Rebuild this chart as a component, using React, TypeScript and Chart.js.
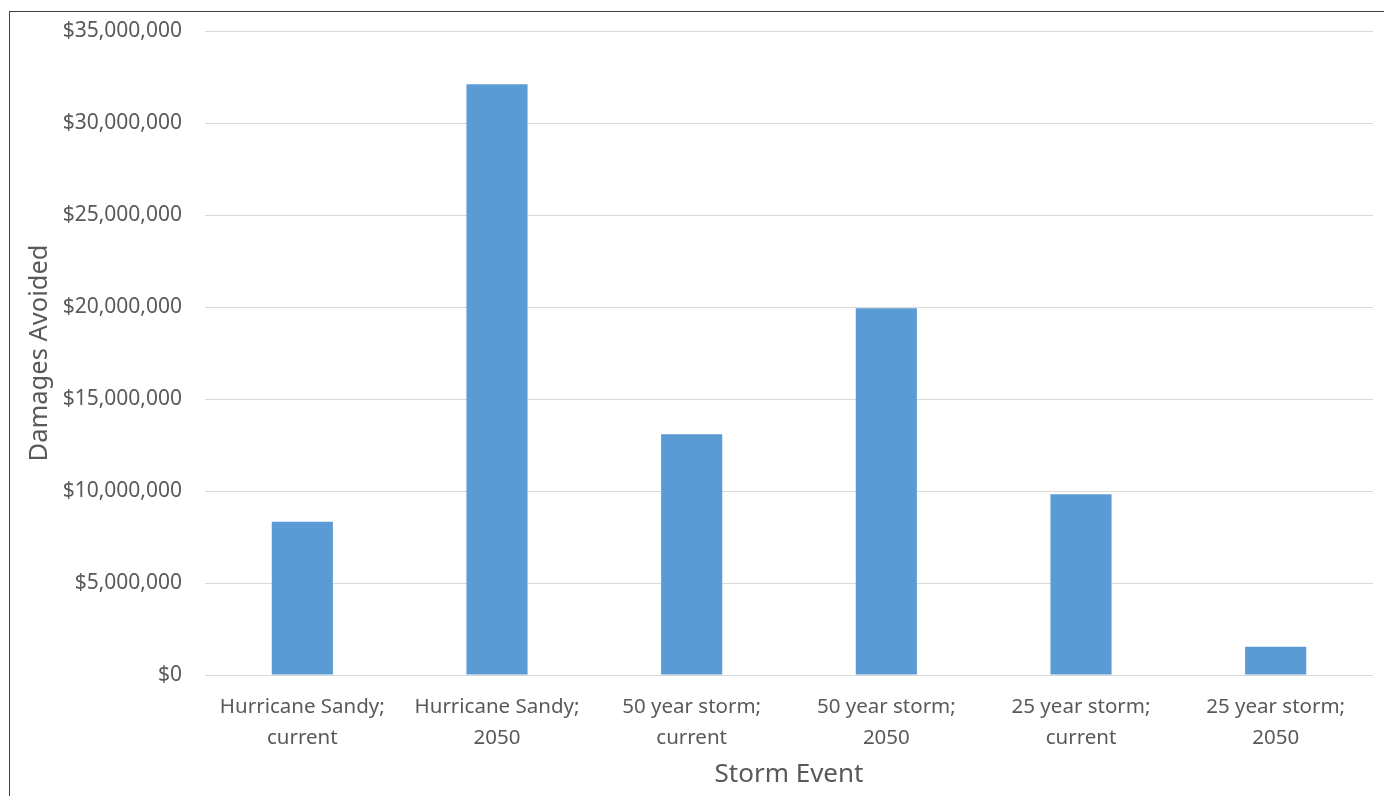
import React, { useEffect, useRef } from "react";
import { Chart, registerables } from "chart.js";

Chart.register(...registerables);

// Storm scenarios and avoided damages (USD)
const categories: string[][] = [
  ["Hurricane Sandy;", "current"],
  ["Hurricane Sandy;", "2050"],
  ["50 year storm;", "current"],
  ["50 year storm;", "2050"],
  ["25 year storm;", "current"],
  ["25 year storm;", "2050"],
];
const damagesAvoided: number[] = [8330000, 32100000, 13080000, 19930000, 9820000, 1540000];

const yMin = 0;
const yMax = 35000000;
const yStep = 5000000;

const xTitle = "Storm Event";
const yTitle = "Damages Avoided";

const W = 1384;
const H = 796;
const PLOT_BOTTOM = 675;
const PAD_BOTTOM = 6;
const TEXT = "#595959";
const FONT = "'Noto Sans', sans-serif";

function money(v: number): string {
  return "$" + Math.round(v).toLocaleString("en-US");
}

export default function App() {
  const canvasRef = useRef<HTMLCanvasElement | null>(null);

  useEffect(() => {
    const canvas = canvasRef.current;
    if (!canvas) return;
    const chart = new Chart(canvas, {
      type: "bar",
      data: {
        labels: categories,
        datasets: [
          {
            data: damagesAvoided,
            backgroundColor: "#5B9BD5",
            borderWidth: 0,
            categoryPercentage: 1,
            barPercentage: 0.314,
          },
        ],
      },
      options: {
        animation: false,
        responsive: false,
        devicePixelRatio: 1,
        layout: { padding: { left: 0, right: 11, top: 31, bottom: PAD_BOTTOM } },
        plugins: {
          legend: { display: false },
          tooltip: { enabled: false },
        },
        scales: {
          x: {
            grid: { display: false, drawTicks: false },
            border: { display: false },
            ticks: {
              color: TEXT,
              font: { family: FONT, size: 20.5, lineHeight: 1.5 },
              padding: 17,
              maxRotation: 0,
              autoSkip: false,
            },
            title: {
              display: true,
              text: xTitle,
              color: TEXT,
              font: { family: FONT, size: 26, lineHeight: 1.2 },
              padding: { top: 8, bottom: 0 },
            },
            afterFit: (scale: any) => {
              scale.height = H - PAD_BOTTOM - PLOT_BOTTOM;
            },
          },
          y: {
            min: yMin,
            max: yMax,
            grid: { color: "#D9D9D9", lineWidth: 1, drawTicks: false },
            border: { display: false },
            ticks: {
              stepSize: yStep,
              color: TEXT,
              font: { family: FONT, size: 21 },
              padding: 23,
              callback: (v: any) => money(Number(v)),
            },
            title: {
              display: true,
              text: yTitle,
              color: TEXT,
              font: { family: FONT, size: 25.5, lineHeight: 1.2 },
              padding: { top: 24, bottom: 0 },
            },
            afterFit: (scale: any) => {
              scale.width = 205;
              scale.paddingTop = 0;
              scale.paddingBottom = 0;
            },
          },
        },
      },
    });
    return () => chart.destroy();
  }, []);

  return (
    <div
      style={{
        position: "fixed",
        left: 0,
        top: 0,
        width: W,
        height: H,
        overflow: "hidden",
        background: "#fff",
      }}
    >
      <div
        style={{
          position: "absolute",
          left: 9,
          top: 11,
          width: W + 20,
          height: H + 20,
          borderLeft: "1px solid #404040",
          borderTop: "1px solid #404040",
        }}
      />
      <canvas
        ref={canvasRef}
        width={W}
        height={H}
        style={{ position: "absolute", left: 0, top: 0, width: W, height: H }}
      />
    </div>
  );
}
